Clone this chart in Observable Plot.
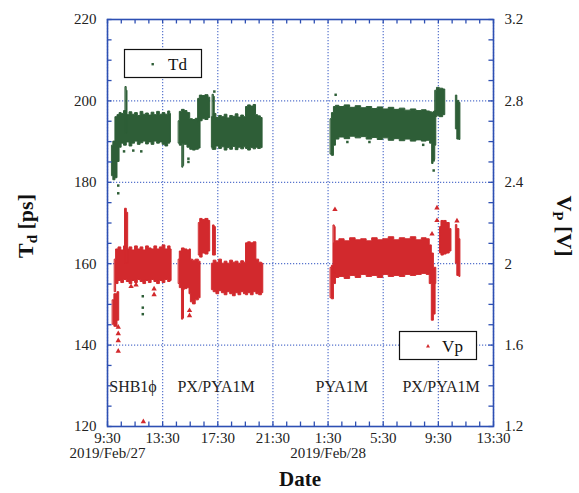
<!DOCTYPE html>
<html><head><meta charset="utf-8">
<script src="https://cdn.jsdelivr.net/npm/d3@7"></script>
<script src="https://cdn.jsdelivr.net/npm/@observablehq/plot@0.6"></script>
<style>body{margin:0;background:#fff}</style>
</head><body><div id="chart"></div>
<script>
// ---- axes / ticks (x = hours since 9:30, 2019/Feb/27) ----
const xTicks = [0, 4, 8, 12, 16, 20, 24, 28];
const xTickLabels = ["9:30\n2019/Feb/27", "13:30", "17:30", "21:30", "1:30\n2019/Feb/28", "5:30", "9:30", "13:30"];
const xMinorTicks = [0,1,2,3,4,5,6,7,8,9,10,11,12,13,14,15,16,17,18,19,20,21,22,23,24,25,26,27,28];
const tdTicks = [120, 140, 160, 180, 200, 220];
const tdMinorTicks = [120,125,130,135,140,145,150,155,160,165,170,175,180,185,190,195,200,205,210,215,220];
const vpTicks = [1.2, 1.6, 2.0, 2.4, 2.8, 3.2];
const vpTickLabels = ["1.2", "1.6", "2", "2.4", "2.8", "3.2"];

// ---- Td [ps] bands: [t (h), low, high] ----
const tdSegA = [[0.35,181.5,189],[0.5,180.5,190],[0.65,181,196],[0.8,185,196.5],[0.95,188.5,197],[1.1,189.5,196.8],[1.3,189,197.5],[1.5,189.8,196.5],[1.7,188.8,197.2],[1.9,189.5,196.6],[2.1,190,197],[2.3,189.2,196.3],[2.5,189.6,197.3],[2.7,190,196.6],[2.9,189.3,196.9],[3.1,189.8,196.4],[3.3,189.2,197.1],[3.5,190,196.5],[3.7,189.5,197.3],[3.9,189.8,196.6],[4.1,189.2,197],[4.3,188.8,196.6],[4.5,189.5,197.4],[4.6,189.8,196.8]];
const tdSpikeA = [[1.33,192,203.4],[1.45,192,202.5]];
const tdSegB1 = [[5.19,189.5,195],[5.3,189,197.3],[5.5,189.5,197.8],[5.7,189.2,197.5],[5.9,188.5,197],[6.1,188,195.5],[6.3,187.8,195.3],[6.5,188,195.6],[6.75,188.3,195.2]];
const tdSpikeB = [[5.45,183.6,190],[5.56,184,190]];
const tdSegB2 = [[6.6,194.8,200.5],[6.8,195,201.3],[7.0,195.5,201.2],[7.2,195.3,201.4],[7.45,195.8,200.8]];
const tdSpikeC = [[7.65,188,201.5],[7.78,188,201]];
const tdSegC = [[7.6,188.5,196],[7.8,188,196.8],[8.0,188.8,195.8],[8.2,188.2,196.3],[8.4,188.6,196],[8.6,187.8,196.6],[8.8,188.4,195.7],[9.0,188,196.3],[9.2,188.7,196.1],[9.4,187.9,196.7],[9.6,188.5,195.9],[9.8,188.1,196.4],[10.0,188.6,196],[10.1,188.2,198.5],[10.3,187.8,198.9],[10.5,188.4,198.6],[10.7,188.1,199],[10.85,188.5,196.5],[11.0,188.2,196.2],[11.25,188.4,195.8]];
const tdSegD = [[16.21,186.8,195.5],[16.35,186.5,197],[16.5,189,198.5],[16.64,190.5,198.8],[17.0,191,198.5],[17.4,190.6,198.9],[17.8,191.2,198.3],[18.2,190.8,198.7],[18.6,191.1,198.2],[19.0,190.5,198.5],[19.4,190.9,198],[19.8,190.4,198.4],[20.2,190.8,197.9],[20.6,190.2,198.3],[21.0,190.6,197.8],[21.4,190.1,198.1],[21.8,190.5,197.6],[22.2,190,197.9],[22.6,190.3,197.5],[23.0,190,197.7],[23.3,190.2,197.4],[23.5,189.5,197.2],[23.6,184.5,197],[23.7,185.5,197.3],[23.85,189,197.5]];
const tdSegE = [[23.8,196,202.5],[24.0,196.2,203.2],[24.2,196,203],[24.5,196.5,202.8]];
const tdSegF = [[25.3,193,201.3],[25.45,190.5,200],[25.6,190.4,199.5]];
const tdOutliers = [[0.78,179.2],[0.78,177.3],[1.2,187.6],[1.87,187.8],[2.45,187.6],[2.56,152],[2.56,149.2],[2.56,147.6],[5.87,185.8],[5.87,185],[7.75,202.3],[16.55,201.5],[17.4,189.9],[19,189.9],[22.9,189.2],[23.66,182.9],[23.66,185.4]];

// ---- Vp [V] bands: [t (h), low, high] ----
const vpSegA0 = [[0.4,1.70,1.82],[0.6,1.69,1.85],[0.85,1.72,1.86]];
const vpSegA = [[0.55,1.86,2.02],[0.7,1.90,2.07],[0.9,1.915,2.08],[1.1,1.905,2.065],[1.3,1.92,2.085],[1.5,1.91,2.07],[1.7,1.90,2.08],[1.9,1.915,2.065],[2.1,1.905,2.085],[2.3,1.92,2.07],[2.5,1.91,2.08],[2.7,1.90,2.065],[2.9,1.915,2.085],[3.1,1.905,2.075],[3.3,1.92,2.07],[3.5,1.91,2.085],[3.7,1.90,2.07],[3.9,1.915,2.08],[4.1,1.905,2.09],[4.3,1.92,2.07],[4.5,1.91,2.085],[4.65,1.915,2.07]];
const vpSpikeA = [[1.3,2.0,2.27],[1.5,2.0,2.25]];
const vpSegB1 = [[5.19,1.90,2.02],[5.3,1.88,2.06],[5.5,1.87,2.075],[5.7,1.875,2.07],[5.9,1.88,2.065],[6.0,1.85,2.07],[6.1,1.81,2.02],[6.3,1.80,2.015],[6.5,1.82,2.02],[6.75,1.83,2.01]];
const vpSpikeB = [[5.43,1.725,1.88],[5.55,1.73,1.88]];
const vpSegB2 = [[6.65,2.04,2.20],[6.8,2.03,2.22],[7.0,2.05,2.215],[7.2,2.045,2.22],[7.45,2.06,2.21]];
const vpSpikeC = [[7.68,2.04,2.188],[7.86,2.04,2.18]];
const vpSegC = [[7.6,1.87,2.0],[7.8,1.86,2.015],[8.0,1.85,2.005],[8.2,1.865,2.02],[8.4,1.855,2.0],[8.6,1.845,2.01],[8.8,1.86,2.0],[9.0,1.85,2.015],[9.2,1.84,2.005],[9.4,1.855,2.01],[9.6,1.845,2.0],[9.8,1.86,2.012],[10.0,1.85,2.005],[10.1,1.845,2.10],[10.3,1.855,2.105],[10.5,1.845,2.10],[10.7,1.86,2.105],[10.9,1.85,2.02],[11.1,1.845,2.005],[11.3,1.855,2.0]];
const vpSegD = [[16.21,1.83,1.98],[16.35,1.825,1.99],[16.5,1.90,2.10],[16.64,1.93,2.11],[17.0,1.935,2.12],[17.4,1.925,2.11],[17.8,1.94,2.125],[18.2,1.93,2.115],[18.6,1.945,2.12],[19.0,1.935,2.11],[19.4,1.94,2.125],[19.8,1.93,2.115],[20.2,1.945,2.12],[20.6,1.935,2.13],[21.0,1.94,2.115],[21.4,1.935,2.125],[21.8,1.945,2.12],[22.2,1.94,2.13],[22.6,1.945,2.115],[23.0,1.95,2.125],[23.3,1.945,2.12],[23.45,1.90,2.09],[23.6,1.72,2.05],[23.75,1.75,1.98],[23.85,1.90,1.98]];
const vpSpikeD = [[16.42,1.95,2.188],[16.55,1.95,2.18]];
const vpSegE = [[24.15,2.05,2.18],[24.3,2.04,2.21],[24.5,2.045,2.21],[24.7,2.05,2.20],[24.95,2.06,2.17]];
const vpSegF = [[25.3,2.0,2.19],[25.45,1.94,2.17],[25.6,1.935,2.12]];
const vpOutliers = [[0.78,1.688],[0.78,1.656],[0.78,1.622],[0.78,1.57],[1.71,1.888],[2.07,1.896],[3.38,1.876],[3.38,1.848],[2.6,1.224],[5.95,1.77],[5.95,1.745],[16.5,2.266],[23.9,2.274],[23.9,2.212],[23.54,2.146],[25.35,2.21]];

// ---- annotations ----
const noteLabels = ["SHB1\u03d5", "PX/PYA1M", "PYA1M", "PX/PYA1M"];
const noteT = [1.85, 7.88, 17.0, 24.2];
const noteTd = [129.8, 129.8, 129.8, 129.8];

// ---- build tables ----
const toTd = v => 120 + (v - 1.2) * 50;
const tdBands = [tdSegA, tdSpikeA, tdSegB1, tdSpikeB, tdSegB2, tdSpikeC, tdSegC, tdSegD, tdSegE, tdSegF]
  .flatMap((s, i) => s.map(([t, lo, hi]) => ({seg: i, t, lo, hi})));
const vpBands = [vpSegA0, vpSegA, vpSpikeA, vpSegB1, vpSpikeB, vpSegB2, vpSpikeC, vpSegC, vpSegD, vpSpikeD, vpSegE, vpSegF]
  .flatMap((s, i) => s.map(([t, lo, hi]) => ({seg: i, t, lo: toTd(lo), hi: toTd(hi)})));
const tdDots = tdOutliers.map(([t, v]) => ({t, v}));
const vpDots = vpOutliers.map(([t, v]) => ({t, v: toTd(v)}));
const notes = noteLabels.map((label, i) => ({label, t: noteT[i], y: noteTd[i]}));

const GREEN = "#2e5e37", RED = "#d2292d", AXIS = "#2d4fb3", GRID = "#3a5cc4";
const tickH = 0.33, tickV = 1.1; // tick length in data units (~4.5 px)

const plot = Plot.plot({
  width: 579, height: 493,
  marginTop: 19, marginBottom: 67, marginLeft: 107, marginRight: 86,
  x: {domain: [0, 28]},
  y: {domain: [120, 220]},
  style: {fontFamily: "'Liberation Serif', 'Times New Roman', serif", fontSize: "15px", color: "#222", background: "#fff"},
  marks: [
    Plot.gridX(xTicks, {stroke: GRID, strokeOpacity: 0.85, strokeDasharray: "1.2,1.8", strokeWidth: 1.2}),
    Plot.gridY(tdTicks, {stroke: GRID, strokeOpacity: 0.85, strokeDasharray: "1.2,1.8", strokeWidth: 1.2}),
    Plot.areaY(tdBands, {x: "t", y1: "lo", y2: "hi", z: "seg", fill: GREEN, curve: "step", stroke: GREEN, strokeWidth: 1}),
    Plot.areaY(vpBands, {x: "t", y1: "lo", y2: "hi", z: "seg", fill: RED, curve: "step", stroke: RED, strokeWidth: 1}),
    Plot.dot(tdDots, {x: "t", y: "v", symbol: "square", r: 1.4, fill: GREEN}),
    Plot.dot(vpDots, {x: "t", y: "v", symbol: "triangle", r: 2, fill: RED}),
    Plot.text(notes, {x: "t", y: "y", text: "label", fontSize: 16, fill: "#222"}),
    // inward ticks
    Plot.ruleX(xMinorTicks, {x: d => d, y1: 120, y2: 120 + tickV, stroke: AXIS, strokeWidth: 1.3}),
    Plot.ruleX(xMinorTicks, {x: d => d, y1: 220 - tickV, y2: 220, stroke: AXIS, strokeWidth: 1.3}),
    Plot.ruleY(tdMinorTicks, {y: d => d, x1: 0, x2: tickH, stroke: AXIS, strokeWidth: 1.3}),
    Plot.ruleY(tdMinorTicks, {y: d => d, x1: 28 - tickH, x2: 28, stroke: AXIS, strokeWidth: 1.3}),
    Plot.frame({stroke: AXIS, strokeWidth: 1.6}),
    Plot.axisX({ticks: xTicks, tickFormat: (d, i) => xTickLabels[i], tickSize: 0, tickPadding: 6, label: null}),
    Plot.axisY({ticks: tdTicks, tickSize: 0, tickPadding: 11, label: null}),
    Plot.axisY({anchor: "right", ticks: vpTicks.map(toTd), tickFormat: (d, i) => vpTickLabels[i], tickSize: 0, tickPadding: 11, label: null})
  ]
});

const svg = d3.select(plot);
const FONT = "'Liberation Serif', 'Times New Roman', serif";
// legends
function legend(x, y, w, h, color, sym, label) {
  const g = svg.append("g");
  g.append("rect").attr("x", x).attr("y", y).attr("width", w).attr("height", h)
    .attr("fill", "#fff").attr("stroke", "#111").attr("stroke-width", 1.2);
  if (sym === "square") g.append("rect").attr("x", x + 27).attr("y", y + 13.5).attr("width", 2.4).attr("height", 2.4).attr("fill", color);
  else g.append("path").attr("d", `M${x + 28.5},${y + 12.5}L${x + 30.5},${y + 16}L${x + 26.5},${y + 16}Z`).attr("fill", color);
  g.append("text").attr("x", x + 53).attr("y", y + 20.5).attr("font-family", FONT).attr("font-size", 17).attr("fill", "#111").text(label);
}
legend(124.5, 49.5, 77, 28, GREEN, "square", "Td");
legend(399.5, 331.5, 77, 28, RED, "triangle", "Vp");

// axis titles
const lt = svg.append("text").attr("transform", "translate(33,226) rotate(-90)").attr("text-anchor", "middle")
  .attr("font-family", FONT).attr("font-weight", "bold").attr("font-size", 22).attr("fill", "#111");
lt.append("tspan").text("T");
lt.append("tspan").attr("font-size", 15).attr("dy", 4).text("d");
lt.append("tspan").attr("dy", -4).text(" [ps]");

const rt = svg.append("text").attr("transform", "translate(557,226) rotate(90)").attr("text-anchor", "middle")
  .attr("font-family", FONT).attr("font-weight", "bold").attr("font-size", 22).attr("fill", "#111");
rt.append("tspan").text("V");
rt.append("tspan").attr("font-size", 15).attr("dy", 4).text("P");
rt.append("tspan").attr("dy", -4).text(" [V]");

svg.append("text").attr("x", 300).attr("y", 486).attr("text-anchor", "middle")
  .attr("font-family", FONT).attr("font-weight", "bold").attr("font-size", 21).attr("fill", "#111").text("Date");

document.getElementById("chart").appendChild(plot);
</script></body></html>
